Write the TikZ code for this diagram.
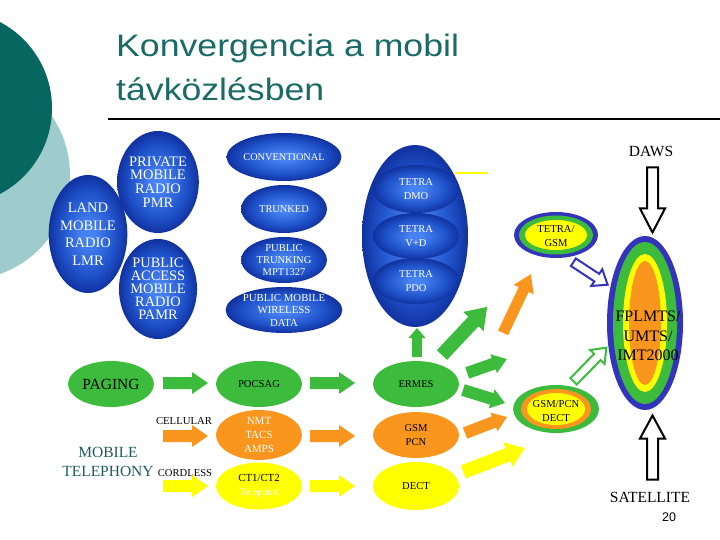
\documentclass[tikz,border=0pt]{standalone}
\usepackage{fontspec}
\setmainfont{Liberation Serif}
\setsansfont{Liberation Sans}
\newfontfamily\titlefont[FakeStretch=1.15]{Liberation Sans}
\usetikzlibrary{shapes.geometric}
\definecolor{darkteal}{RGB}{8,102,96}
\definecolor{lightteal}{RGB}{158,204,204}
\definecolor{titlecol}{RGB}{26,106,104}
\definecolor{bluein}{RGB}{70,130,242}
\definecolor{bluemid}{RGB}{30,80,200}
\definecolor{blueout}{RGB}{6,24,125}
\definecolor{ringblue}{RGB}{51,51,187}
\definecolor{mgreen}{RGB}{60,187,60}
\definecolor{morange}{RGB}{250,150,30}
\definecolor{myellow}{RGB}{255,255,0}
\definecolor{telecol}{RGB}{30,92,92}
\pgfdeclareradialshading{blueball}{\pgfpoint{0bp}{0bp}}{color(0bp)=(bluein); color(4bp)=(bluein); color(18bp)=(bluemid); color(31bp)=(blueout); color(50bp)=(blueout)}
\tikzset{
  blueell/.style={ellipse, shade, shading=blueball, inner sep=0pt, text=white, align=center},
  flatell/.style={ellipse, inner sep=0pt, align=center},
  fs/.style n args={2}{font={\fontsize{#1}{#2}\selectfont}},
  harr/.style={fill=white, line width=2pt, line join=miter},
}
% #1 style, #2 x, #3 y, #4 angle, #5 length, #6 shaft half width, #7 head half width, #8 head length
\newcommand\blockarrow[8]{%
  \begin{scope}[shift={(#2,#3)}, rotate=#4]
  \path[#1] ({-#5/2},{-#6}) -- ({#5/2-#8},{-#6}) -- ({#5/2-#8},{-#7}) -- ({#5/2},0)
     -- ({#5/2-#8},{#7}) -- ({#5/2-#8},{#6}) -- ({-#5/2},{#6}) -- cycle;
  \end{scope}}
\begin{document}
\begin{tikzpicture}[x=1pt,y=-1pt]
\useasboundingbox (0,0) rectangle (720,540);
\clip (0,0) rectangle (720,540);
% left decoration
\fill[lightteal] (-35,175) circle (105);
\fill[darkteal] (-45,108) circle (97);
% title
\node[anchor=base west, inner sep=0pt, text=titlecol, font={\titlefont\fontsize{31}{31}\selectfont}] (t1) at (116,57) {Konvergencia a mobil};
\node[anchor=base west, inner sep=0pt, text=titlecol, font={\titlefont\fontsize{31}{31}\selectfont}] (t2) at (116,101) {távközlésben};
\draw[line width=2pt] (108,119) -- (720,119);
% blue ellipses
\node[blueell, minimum width=70pt, minimum height=118pt, fs={14.5}{17.5}] (lmr) at (88,234) {LAND\\MOBILE\\RADIO\\LMR};
\node[blueell, minimum width=70pt, minimum height=102pt, fs={14.5}{13.7}] (pmr) at (158,182) {PRIVATE\\MOBILE\\RADIO\\PMR};
\node[blueell, minimum width=70pt, minimum height=100pt, fs={14.4}{13}] (pamr) at (158,289) {PUBLIC\\ACCESS\\MOBILE\\RADIO\\PAMR};
\node[blueell, minimum width=86pt, minimum height=48pt, fs={10.3}{12}] (conv) at (284,157) {CONVENTIONAL};
\node[blueell, minimum width=86pt, minimum height=48pt, fs={10.4}{12}] (trunk) at (284,209) {TRUNKED};
\node[blueell, minimum width=86pt, minimum height=46pt, fs={10.5}{12}] (mpt) at (284,260) {PUBLIC\\TRUNKING\\MPT1327};
\node[blueell, minimum width=86pt, minimum height=46pt, fs={10.8}{12.5}] (pmwd) at (284,310) {PUBLIC MOBILE\\WIRELESS\\DATA};
% TETRA
\node[blueell, minimum width=106pt, minimum height=182pt] (tetra) at (415,236) {};
\node[blueell, minimum width=86pt, minimum height=48pt, fs={10.5}{14.5}] (dmo) at (416,189) {TETRA\\DMO};
\node[blueell, minimum width=86pt, minimum height=46pt, fs={10.5}{14.5}] (vd) at (416,236) {TETRA\\V+D};
\node[blueell, minimum width=86pt, minimum height=46pt, fs={10.5}{14.5}] (pdo) at (416,281) {TETRA\\PDO};
\draw[myellow, line width=1.2pt] (455,173) -- (488,173);
% TETRA/GSM
\fill[ringblue] (556,235) ellipse [x radius=42, y radius=23];
\fill[mgreen] (556,235) ellipse [x radius=37, y radius=19.5];
\fill[myellow] (556,235) ellipse [x radius=31, y radius=15];
\node[flatell, minimum width=84pt, minimum height=46pt, fs={10.6}{14}] (tgsm) at (556,236) {TETRA/\\GSM};
% FPLMTS
\fill[ringblue] (645,323) ellipse [x radius=38, y radius=87];
\fill[mgreen] (645,323) ellipse [x radius=32, y radius=81];
\fill[myellow] (645,323) ellipse [x radius=22, y radius=69];
\fill[morange] (645,323) ellipse [x radius=16, y radius=62];
\node[flatell, minimum width=76pt, minimum height=174pt, fs={16}{19.5}] (imt) at (648,336) {FPLMTS/\\UMTS/\\IMT2000};
% DAWS / SATELLITE
\node[fs={15.5}{16}, inner sep=0pt] (daws) at (651,151) {DAWS};
\node[fs={15.5}{16}, inner sep=0pt] (sat) at (650,497) {SATELLITE};
\node[font={\sffamily\fontsize{12.5}{13}\selectfont}, inner sep=0pt] (pg) at (669,517) {20};
\blockarrow{harr, draw=black}{652.5}{200}{-90}{65}{5.5}{12.5}{24}
\blockarrow{harr, draw=black}{652.5}{447.5}{90}{64}{5.5}{12.5}{23}
% lower ellipses
\node[flatell, fill=mgreen, minimum width=86pt, minimum height=46pt, fs={15.5}{16}] (paging) at (111,384) {PAGING};
\node[flatell, fill=mgreen, minimum width=86pt, minimum height=46pt, fs={10.6}{12}] (pocsag) at (259,384) {POCSAG};
\node[flatell, fill=morange, text=white, minimum width=86pt, minimum height=46pt, fs={11}{14}] (nmt) at (259,435) {NMT\\TACS\\AMPS};
\node[flatell, fill=myellow, minimum width=86pt, minimum height=47pt, fs={10.8}{14}] (ct) at (259,486) {CT1/CT2\\{\color{white}\fontsize{10}{12}\selectfont Telepoint}};
\node[flatell, fill=mgreen, minimum width=86pt, minimum height=46pt, fs={10.5}{12}] (ermes) at (416,384) {ERMES};
\node[flatell, fill=morange, minimum width=86pt, minimum height=46pt, fs={10.6}{13.5}] (gsm) at (416,435) {GSM\\PCN};
\node[flatell, fill=myellow, minimum width=86pt, minimum height=48pt, fs={10.6}{12}] (dect) at (416,486) {DECT};
\fill[mgreen] (556,409) ellipse [x radius=43, y radius=24];
\fill[morange] (556,409) ellipse [x radius=35, y radius=20];
\fill[myellow] (556,409) ellipse [x radius=29, y radius=16];
\node[flatell, minimum width=86pt, minimum height=48pt, fs={10.6}{14}] (gsmdect) at (556,411) {GSM/PCN\\DECT};
% labels
\node[fs={10.7}{12}, inner sep=0pt] (cell) at (184,421) {CELLULAR};
\node[fs={10.6}{12}, inner sep=0pt] (cord) at (185,473) {CORDLESS};
\node[fs={15.5}{19}, text=telecol, align=center, inner sep=0pt] (mtel) at (108,462) {MOBILE\\TELEPHONY};
% block arrows
\blockarrow{fill=mgreen}{185.5}{383}{0}{45}{6}{11}{16}
\blockarrow{fill=mgreen}{332.5}{383}{0}{45}{6}{11}{16}
\blockarrow{fill=morange}{185.5}{436}{0}{45}{6}{11}{16}
\blockarrow{fill=morange}{332.5}{436}{0}{45}{6}{11}{16}
\blockarrow{fill=myellow}{185.5}{486}{0}{45}{6}{11}{16}
\blockarrow{fill=myellow}{332.5}{486}{0}{45}{6}{11}{16}
\blockarrow{fill=mgreen}{417}{342.5}{90}{29}{5}{8.5}{10}
\blockarrow{fill=mgreen}{464.5}{331}{46.8}{66}{7}{14}{20}
\blockarrow{fill=morange}{517}{303.5}{64.6}{65}{5.5}{11}{17}
\blockarrow{fill=mgreen}{487}{366}{19.3}{42}{6}{10}{14}
\blockarrow{fill=mgreen}{484}{396.5}{-17.2}{44}{6}{10}{14}
\blockarrow{fill=morange}{486}{425}{20.9}{45}{6}{10}{14}
\blockarrow{fill=myellow}{494}{460}{21.2}{66}{7}{13}{18}
\blockarrow{harr, draw=mgreen}{590}{364.5}{45.8}{47}{4.5}{10}{13}
\blockarrow{harr, draw=ringblue}{590.5}{273.5}{-33.3}{41}{4.5}{10}{13}
\end{tikzpicture}
\end{document}
